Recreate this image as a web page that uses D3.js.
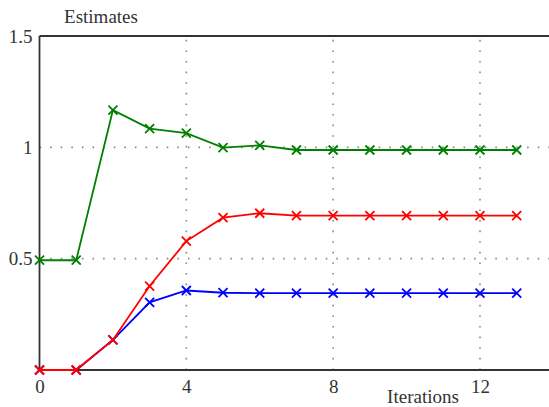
<!DOCTYPE html>
<html>
<head>
<meta charset="utf-8">
<script src="https://cdn.jsdelivr.net/npm/d3@7/dist/d3.min.js"></script>
<style>
  html, body { margin: 0; padding: 0; background: #fff; }
  svg { display: block; }
</style>
</head>
<body>
<svg id="chart" width="549" height="407"></svg>
<script>
// Iteration index and the three estimate series
const iterations = [0, 1, 2, 3, 4, 5, 6, 7, 8, 9, 10, 11, 12, 13];
const greenSeries = [0.493, 0.493, 1.167, 1.084, 1.064, 0.999, 1.009, 0.988, 0.988, 0.988, 0.988, 0.988, 0.988, 0.988];
const redSeries   = [0, 0, 0.135, 0.377, 0.579, 0.684, 0.704, 0.693, 0.693, 0.693, 0.693, 0.693, 0.693, 0.693];
const blueSeries  = [0, 0, 0.135, 0.304, 0.357, 0.347, 0.345, 0.345, 0.345, 0.345, 0.345, 0.345, 0.345, 0.345];
const xTicks = [0, 4, 8, 12];
const yTicks = [0.5, 1, 1.5];

const svg = d3.select("#chart");
const plotLeft = 39.5, plotRight = 549, plotTop = 36, plotBottom = 370;

const x = d3.scaleLinear().domain([0, 13.88]).range([plotLeft, plotRight]);
const y = d3.scaleLinear().domain([0, 1.5]).range([plotBottom, plotTop]);

const font = "'Liberation Serif', 'Times New Roman', serif";

// dotted grid lines
const grid = svg.append("g");
grid.selectAll("line.h").data(yTicks.filter(d => d < 1.5)).join("line")
  .attr("x1", plotLeft).attr("x2", plotRight)
  .attr("y1", d => y(d)).attr("y2", d => y(d))
  .attr("stroke", "#888").attr("stroke-width", 1.6)
  .attr("stroke-dasharray", "1.6,9");
grid.selectAll("line.v").data(xTicks.filter(d => d > 0)).join("line")
  .attr("x1", d => x(d)).attr("x2", d => x(d))
  .attr("y1", plotBottom).attr("y2", plotTop)
  .attr("stroke", "#888").attr("stroke-width", 1.6)
  .attr("stroke-dasharray", "1.6,9");

// axes (tick marks hidden, labels only)
const xAxis = d3.axisBottom(x).tickValues(xTicks).tickSize(0).tickPadding(10).tickFormat(d3.format("d"));
const yAxis = d3.axisLeft(y).tickValues(yTicks).tickSize(0).tickPadding(7).tickFormat(d => String(d));

const gx = svg.append("g").attr("transform", `translate(0,${plotBottom})`).call(xAxis)
  .attr("font-family", font);
gx.select(".domain").remove();
gx.selectAll("text").attr("font-family", font).attr("font-size", 19).attr("fill", "#333");

const gy = svg.append("g").attr("transform", `translate(${plotLeft},0)`).call(yAxis)
  .attr("font-family", font);
gy.select(".domain").remove();
gy.selectAll("text").attr("font-family", font).attr("font-size", 19).attr("fill", "#333");

// frame: left, bottom and top edges
const frame = svg.append("g").attr("stroke", "#333").attr("stroke-width", 1.8).attr("fill", "none");
frame.append("line").attr("x1", plotLeft).attr("x2", plotLeft).attr("y1", plotTop).attr("y2", plotBottom);
frame.append("line").attr("x1", plotLeft).attr("x2", plotRight).attr("y1", plotBottom).attr("y2", plotBottom);
frame.append("line").attr("x1", plotLeft).attr("x2", plotRight).attr("y1", plotTop).attr("y2", plotTop);

// series
const series = [
  { values: blueSeries, color: "#0000ff" },
  { values: greenSeries, color: "#008000" },
  { values: redSeries, color: "#ff0000" }
];
const line = d3.line().x((d, i) => x(iterations[i])).y(d => y(d));
const m = 4.5;
series.forEach(s => {
  const g = svg.append("g");
  g.append("path").attr("d", line(s.values))
    .attr("fill", "none").attr("stroke", s.color).attr("stroke-width", 1.8);
  g.selectAll("path.mk").data(s.values).join("path")
    .attr("class", "mk")
    .attr("d", (d, i) => {
      const cx = x(iterations[i]), cy = y(d);
      return `M${cx - m},${cy - m}L${cx + m},${cy + m}M${cx - m},${cy + m}L${cx + m},${cy - m}`;
    })
    .attr("stroke", s.color).attr("stroke-width", 1.8).attr("fill", "none");
});

// axis titles
svg.append("text").attr("x", 101).attr("y", 23).attr("text-anchor", "middle")
  .attr("font-family", font).attr("font-size", 19).attr("fill", "#333").text("Estimates");
svg.append("text").attr("x", 423).attr("y", 403).attr("text-anchor", "middle")
  .attr("font-family", font).attr("font-size", 19).attr("fill", "#333").text("Iterations");
</script>
</body>
</html>
